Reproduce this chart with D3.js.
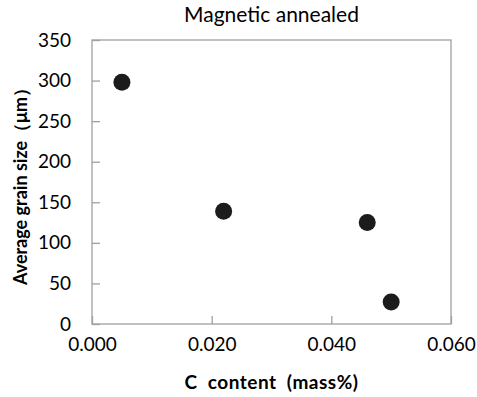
<html>
<head>
  <title>Magnetic annealed</title>
  <style>
    body { margin: 0; background: #fff; }
    text { font-family: Lato, "Open Sans", sans-serif; fill: #000; }
  </style>
</head>
<body>
  <script src="https://d3js.org/d3.v7.min.js"></script>
  <script>
    var carbon = [0.005, 0.022, 0.046, 0.050];
    var grainSize = [298, 139, 125, 27];
    var xTicks = [0, 0.02, 0.04, 0.06];
    var yTicks = [0, 50, 100, 150, 200, 250, 300, 350];

    var margin = { top: 40, right: 26, bottom: 73, left: 92 };
    var width = 477 - margin.left - margin.right;
    var height = 397 - margin.top - margin.bottom;

    var svg = d3.select("body")
      .append("svg")
      .attr("width", 477)
      .attr("height", 397)
      .append("g")
      .attr("transform", "translate(" + margin.left + "," + margin.top + ")");

    var x = d3.scaleLinear().domain([0, 0.06]).range([0, width]);
    var y = d3.scaleLinear().domain([0, 350]).range([height, 0]);

    // plot frame
    svg.append("rect")
      .attr("x", 0).attr("y", 0)
      .attr("width", width).attr("height", height)
      .attr("fill", "none")
      .attr("stroke", "#a0a0a0")
      .attr("stroke-width", 1.3);

    var xAxis = d3.axisBottom(x).tickValues(xTicks).tickFormat(d3.format(".3f")).tickSizeInner(-8).tickSizeOuter(0).tickPadding(14);
    var gx = svg.append("g").attr("transform", "translate(0," + height + ")").call(xAxis);
    gx.select(".domain").remove();
    gx.selectAll("line").attr("stroke", "#a0a0a0").attr("stroke-width", 1.3);
    gx.selectAll("text").style("font-size", "19px").attr("dy", "0.71em");

    var yAxis = d3.axisLeft(y).tickValues(yTicks).tickSizeInner(-8).tickSizeOuter(0).tickPadding(21);
    var gy = svg.append("g").call(yAxis);
    gy.select(".domain").remove();
    gy.selectAll("line").attr("stroke", "#a0a0a0").attr("stroke-width", 1.3);
    gy.selectAll("text").style("font-size", "19px");

    svg.append("text")
      .attr("x", width / 2)
      .attr("y", -18)
      .attr("text-anchor", "middle")
      .style("font-size", "21px")
      .text("Magnetic annealed");

    svg.append("text")
      .attr("x", width / 2)
      .attr("y", height + 65)
      .attr("text-anchor", "middle")
      .style("font-size", "19px")
      .style("font-weight", "bold")
      .style("letter-spacing", "0.5px")
      .attr("xml:space", "preserve")
      .text("C  content  (mass%)");

    svg.append("text")
      .attr("transform", "rotate(-90)")
      .attr("x", -height / 2)
      .attr("y", -65)
      .attr("text-anchor", "middle")
      .style("font-size", "18px")
      .style("font-weight", "bold")
      .text("Average grain size\uff08\u03bcm\uff09");

    svg.selectAll(".dot")
      .data(carbon)
      .enter()
      .append("circle")
      .attr("class", "dot")
      .attr("cx", function (d) { return x(d); })
      .attr("cy", function (d, i) { return y(grainSize[i]); })
      .attr("r", 8.5)
      .attr("fill", "#1c1c1c");
  </script>
</body>
</html>
